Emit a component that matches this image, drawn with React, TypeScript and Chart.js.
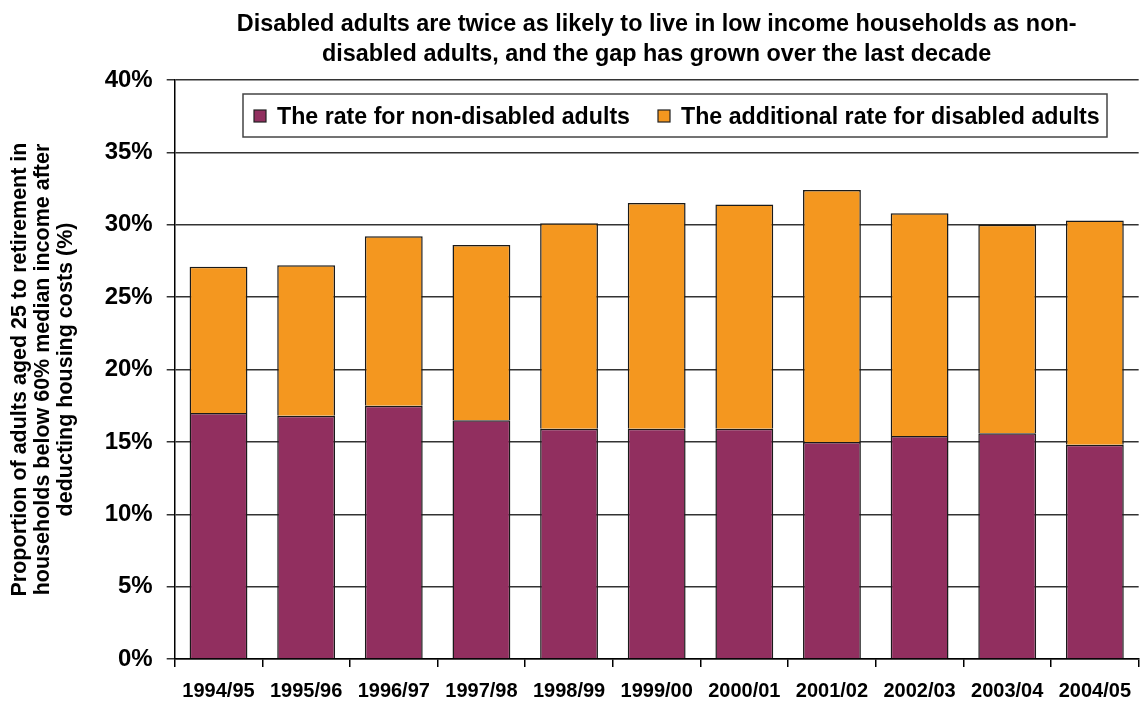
import React, { useEffect, useRef } from "react";
import { Chart, registerables } from "chart.js";

Chart.register(...registerables);

const categories = ["1994/95", "1995/96", "1996/97", "1997/98", "1998/99", "1999/00", "2000/01", "2001/02", "2002/03", "2003/04", "2004/05"];
const nonDisabledRate = [17.0, 16.8, 17.5, 16.5, 15.9, 15.9, 15.9, 15.0, 15.4, 15.6, 14.8];
const disabledTotalRate = [27.1, 27.2, 29.2, 28.6, 30.1, 31.5, 31.4, 32.4, 30.8, 30.0, 30.3];
const additionalRate = disabledTotalRate.map((t, i) => +(t - nonDisabledRate[i]).toFixed(1));
const seriesLabels = ["The rate for non-disabled adults", "The additional rate for disabled adults"];
const titleLines = [
  "Disabled adults are twice as likely to live in low income households as non-",
  "disabled adults, and the gap has grown over the last decade",
];
const yTitleLines = [
  "Proportion of adults aged 25 to retirement in",
  "households below 60% median income after",
  "deducting housing costs (%)",
];

const PURPLE = "#912F5F";
const ORANGE = "#F4971F";
const FONT = "'Liberation Sans', Arial, sans-serif";

const overlayPlugin = {
  id: "overlay",
  afterDraw(chart: any) {
    const ctx = chart.ctx;
    const ca = chart.chartArea;
    ctx.save();
    // title
    ctx.fillStyle = "#000";
    ctx.font = `bold 23.4px ${FONT}`;
    ctx.textAlign = "center";
    ctx.textBaseline = "alphabetic";
    const cx = (ca.left + ca.right) / 2;
    ctx.fillText(titleLines[0], cx, 31);
    ctx.fillText(titleLines[1], cx, 61);
    // legend
    const bx = 243, by = 94, bw = 864, bh = 43;
    ctx.fillStyle = "#fff";
    ctx.fillRect(bx, by, bw, bh);
    ctx.strokeStyle = "#444";
    ctx.lineWidth = 1.5;
    ctx.strokeRect(bx, by, bw, bh);
    ctx.font = `bold 23.2px ${FONT}`;
    ctx.textAlign = "left";
    ctx.textBaseline = "alphabetic";
    const items = [
      { x: 254, tx: 277, color: PURPLE, label: seriesLabels[0] },
      { x: 658, tx: 681, color: ORANGE, label: seriesLabels[1] },
    ];
    for (const it of items) {
      ctx.fillStyle = it.color;
      ctx.fillRect(it.x, 110, 12, 12);
      ctx.strokeStyle = "#222";
      ctx.lineWidth = 1.2;
      ctx.strokeRect(it.x, 110, 12, 12);
      ctx.fillStyle = "#000";
      ctx.fillText(it.label, it.tx, 124);
    }
    ctx.restore();
  },
};

export default function App() {
  const ref = useRef<HTMLCanvasElement>(null);
  useEffect(() => {
    if (!ref.current) return;
    const chart = new Chart(ref.current, {
      type: "bar",
      data: {
        labels: categories,
        datasets: [
          {
            label: seriesLabels[0],
            data: nonDisabledRate,
            backgroundColor: PURPLE,
            borderColor: "#1a1a1a",
            borderWidth: 1.5,
            barPercentage: 0.66,
            categoryPercentage: 1,
          },
          {
            label: seriesLabels[1],
            data: additionalRate,
            backgroundColor: ORANGE,
            borderColor: "#1a1a1a",
            borderWidth: 1.5,
            barPercentage: 0.66,
            categoryPercentage: 1,
          },
        ],
      },
      plugins: [overlayPlugin],
      options: {
        responsive: false,
        animation: false,
        layout: { padding: { top: 80, right: 0, left: 8, bottom: -13 } },
        plugins: {
          legend: { display: false },
          title: { display: false },
          tooltip: { enabled: false },
        },
        scales: {
          x: {
            stacked: true,
            grid: {
              offset: true,
              drawOnChartArea: false,
              drawTicks: true,
              tickLength: 8,
              color: "#000",
              lineWidth: 1.5,
            },
            border: { color: "#000", width: 1.5 },
            ticks: {
              color: "#000",
              font: { family: FONT, size: 20, weight: "bold" },
              padding: 12,
              maxRotation: 0,
              autoSkip: false,
            },
          },
          y: {
            stacked: true,
            min: 0,
            max: 40,
            ticks: {
              stepSize: 5,
              color: "#000",
              font: { family: FONT, size: 24, weight: "bold" },
              padding: 14,
              callback: (v: any) => v + "%",
            },
            grid: {
              color: "#333",
              lineWidth: 1.5,
              tickLength: 8,
              drawTicks: true,
            },
            border: { color: "#000", width: 1.5 },
            title: {
              display: true,
              text: yTitleLines,
              color: "#000",
              font: { family: FONT, size: 21.5, weight: "bold", lineHeight: 1.08 },
              padding: { top: 0, bottom: 13 },
            },
          },
        },
      },
    });
    return () => chart.destroy();
  }, []);
  return (
    <div style={{ position: "fixed", left: 0, top: 0, width: 1143, height: 702, background: "#fff", overflow: "hidden" }}>
      <canvas ref={ref} width={1143} height={702} />
    </div>
  );
}
